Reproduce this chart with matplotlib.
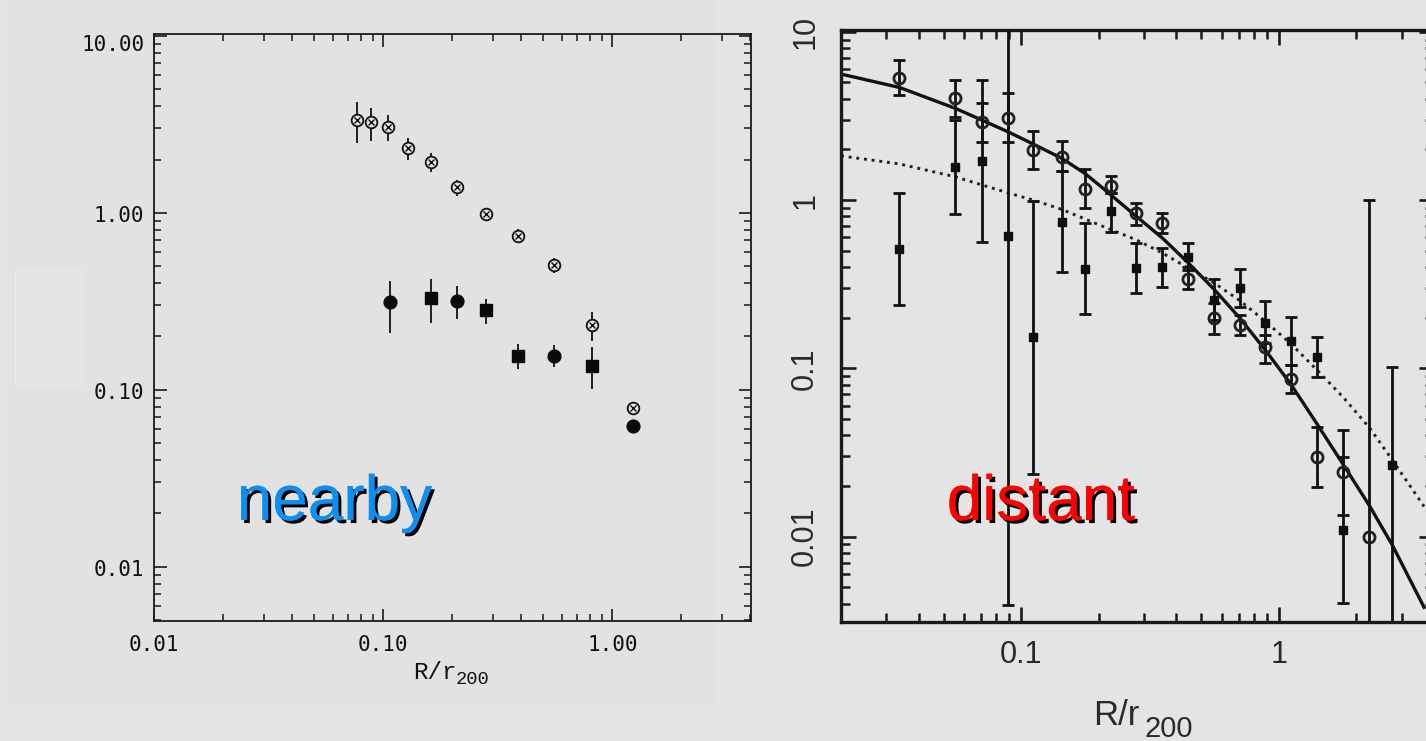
import matplotlib
matplotlib.use('Agg')
import matplotlib.pyplot as plt
import matplotlib.ticker as mtick
import matplotlib.patheffects as pe
import matplotlib.transforms as mtrans
from matplotlib.patches import Rectangle

W, H = 1426, 741

# ---- nearby clusters (left panel) ----
near_x = [0.0766, 0.0881, 0.1045, 0.128, 0.1616, 0.2094, 0.280, 0.389, 0.555, 0.818, 1.235]
near_open = [3.34, 3.24, 3.07, 2.31, 1.94, 1.39, 0.99, 0.738, 0.507, 0.232, 0.0785]
near_open_hi = [4.24, 3.89, 3.56, 2.65, 2.17, 1.53, 1.07, 0.806, 0.552, 0.276, 0.0785]
near_open_lo = [2.47, 2.55, 2.55, 1.99, 1.70, 1.24, 0.90, 0.686, 0.458, 0.189, 0.0785]

near_fx = [0.107, 0.1616, 0.2094, 0.280, 0.389, 0.555, 0.818, 1.235]
near_fill = [0.312, 0.331, 0.318, 0.282, 0.156, 0.156, 0.137, 0.0624]
near_fill_hi = [0.413, 0.422, 0.385, 0.325, 0.181, 0.178, 0.175, 0.0624]
near_fill_lo = [0.208, 0.237, 0.250, 0.235, 0.1315, 0.134, 0.101, 0.0624]
near_fill_mk = ['o', 's', 'o', 's', 's', 'o', 's', 'o']

near_yticks = [0.01, 0.1, 1.0, 10.0]
near_ylabels = ['0.01', '0.10', '1.00', '10.00']
near_xticks = [0.01, 0.1, 1.0]

# ---- distant clusters (right panel) ----
dist_x = [0.0337, 0.0555, 0.0703, 0.0887, 0.1116, 0.1438, 0.1767, 0.2223, 0.2799,
          0.3532, 0.4441, 0.5604, 0.7073, 0.8873, 1.113, 1.409, 1.778, 2.244]
dist_open = [5.33, 4.02, 2.90, 3.06, 1.98, 1.81, 1.16, 1.22, 0.834,
             0.733, 0.341, 0.200, 0.181, 0.134, 0.0864, 0.0298, 0.0243, 0.00998]
dist_open_hi = [6.79, 5.16, 3.76, 4.30, 2.57, 2.25, 1.54, 1.39, 0.964,
                0.841, 0.402, 0.243, 0.207, 0.158, 0.1046, 0.045, 0.043, 1.0]
dist_open_lo = [4.21, 3.12, 2.20, 2.20, 1.53, 1.49, 0.90, 1.10, 0.71,
                0.634, 0.295, 0.161, 0.158, 0.107, 0.0710, 0.0198, 0.0134, 0.001]

dist_fx = [0.0337, 0.0555, 0.0703, 0.0887, 0.1116, 0.1438, 0.1767, 0.2223, 0.2799,
           0.3532, 0.4441, 0.5604, 0.7073, 0.8873, 1.113, 1.409, 1.778, 2.757]
dist_fill = [0.512, 1.58, 1.71, 0.614, 0.154, 0.743, 0.389, 0.860, 0.393,
             0.402, 0.457, 0.255, 0.301, 0.185, 0.146, 0.117, 0.01094, 0.0266]
dist_fill_hi = [1.104, 3.0, 5.16, 20.0, 0.99, 1.49, 0.727, 1.10, 0.557,
                0.516, 0.557, 0.338, 0.389, 0.252, 0.203, 0.154, 0.0298, 0.1022]
dist_fill_lo = [0.237, 0.822, 0.565, 0.00393, 0.0234, 0.375, 0.209, 0.648, 0.281,
                0.305, 0.384, 0.194, 0.232, 0.141, 0.105, 0.0891, 0.00402, 0.001]

# fitted profiles
solid_x = [0.02, 0.0337, 0.0555, 0.0703, 0.0887, 0.1116, 0.1438, 0.1767, 0.2018, 0.2799,
           0.3532, 0.4441, 0.5604, 0.7073, 0.8873, 1.113, 1.409, 1.778, 2.244, 2.757, 3.66]
solid_y = [5.61, 4.67, 3.51, 2.99, 2.55, 2.15, 1.77, 1.44, 1.22, 0.80,
           0.595, 0.425, 0.295, 0.198, 0.128, 0.0805, 0.0465, 0.0268, 0.0153, 0.0089, 0.0038]
dot_x = [0.02, 0.0337, 0.0555, 0.0887, 0.1116, 0.1438, 0.2018, 0.2799, 0.3532, 0.4441,
         0.5604, 0.7073, 0.8873, 1.113, 1.409, 1.778, 2.244, 2.757, 3.66]
dot_y = [1.83, 1.64, 1.375, 1.105, 1.0, 0.88, 0.71, 0.58, 0.485, 0.395,
         0.322, 0.252, 0.19, 0.14, 0.0975, 0.0672, 0.0445, 0.0285, 0.0151]

dist_yticks = [0.01, 0.1, 1.0, 10.0]
dist_ylabels = ['0.01', '0.1', '1', '10']
dist_xticks = [0.1, 1.0]
dist_xlabels = ['0.1', '1']


def yerr(y, lo, hi):
    return [[a - b for a, b in zip(y, lo)], [b - a for a, b in zip(y, hi)]]


bg = '#e4e4e4'
fig = plt.figure(figsize=(W / 100, H / 100), dpi=100, facecolor=bg)
# faint pasted-image regions of the slide
fig.patches.append(Rectangle((8 / W, 1 - 705 / H), 707 / W, 705 / H, transform=fig.transFigure,
                             facecolor='#e2e2e2', edgecolor='none', zorder=-5))
fig.patches.append(Rectangle((15 / W, 1 - 385 / H), 67 / W, 115 / H, transform=fig.transFigure,
                             facecolor='#e4e4e6', edgecolor='#e9e9f1', lw=0.8, zorder=-4))


def px_axes(l, r, t, b):
    return fig.add_axes([l / W, 1 - b / H, (r - l) / W, (b - t) / H])


# ---------------- left panel ----------------
ax1 = px_axes(154.3, 750.7, 34.3, 620.7)
ax1.set_facecolor('none')
ax1.set_xscale('log')
ax1.set_yscale('log')
ax1.set_xlim(0.01, 4.02)
ax1.set_ylim(0.00495, 10.2)
for s in ax1.spines.values():
    s.set_linewidth(1.3)
    s.set_color('#1a1a1a')
ax1.tick_params(which='both', direction='in', top=True, right=True, color='#1a1a1a')
ax1.tick_params(which='major', length=9, width=1.2, labelsize=15)
ax1.tick_params(which='minor', length=5.3, width=1.1)
ax1.tick_params(axis='x', pad=10.5)
ax1.tick_params(axis='y', labelleft=False)
ax1.set_xticks(near_xticks)
ax1.set_yticks(near_yticks)
ax1.xaxis.set_major_formatter(mtick.FormatStrFormatter('%.2f'))
for lab in ax1.get_xticklabels():
    lab.set_family('DejaVu Sans Mono')
    lab.set_color('#111111')
# pgplot-style y labels, nudged down a little (top one kept inside the frame)
for v, s in zip(near_yticks, near_ylabels):
    dy = -9 if v == 10.0 else -3
    tr = mtrans.offset_copy(ax1.get_yaxis_transform(), fig=fig, x=-10, y=dy, units='dots')
    ax1.text(0, v, s, transform=tr, ha='right', va='center', fontsize=15,
             family='DejaVu Sans Mono', color='#111111')

ax1.errorbar(near_x, near_open, yerr=yerr(near_open, near_open_lo, near_open_hi),
             fmt='none', ecolor='#111111', elinewidth=1.3, capsize=0)
ax1.plot(near_x, near_open, 'o', ms=8.4, mfc=bg, mec='#111111', mew=1.3, ls='none')
ax1.plot(near_x, near_open, 'x', ms=5.0, mec='#111111', mew=1.0, ls='none')
ax1.errorbar(near_fx, near_fill, yerr=yerr(near_fill, near_fill_lo, near_fill_hi),
             fmt='none', ecolor='#111111', elinewidth=1.3, capsize=0)
for x, y, m in zip(near_fx, near_fill, near_fill_mk):
    ax1.plot([x], [y], m, ms=9.2 if m == 'o' else 8.2, color='#0a0a0a', ls='none')

fig.text(413 / W, 1 - 679 / H, 'R/r', family='Liberation Mono', fontsize=17.5,
         color='#111111', ha='left', va='baseline')
fig.text(456 / W, 1 - 684 / H, '200', family='Liberation Mono', fontsize=13.5,
         color='#111111', ha='left', va='baseline')

# ---------------- right panel ----------------
ax2 = px_axes(841, 1434, 30, 621.7)
ax2.set_facecolor('none')
ax2.set_xscale('log')
ax2.set_yscale('log')
ax2.set_xlim(0.02, 4.0)
ax2.set_ylim(0.00312, 10.25)
for s in ax2.spines.values():
    s.set_linewidth(2.4)
    s.set_color('#1a1a1a')
ax2.tick_params(which='both', direction='in', top=True, right=True, color='#1a1a1a')
ax2.tick_params(which='major', length=10.8, width=1.9, labelsize=22, labelcolor='#2a2a2a')
ax2.tick_params(which='minor', length=6.5, width=1.8)
ax2.tick_params(axis='x', pad=13)
ax2.tick_params(axis='y', pad=15)
ax2.set_xticks(dist_xticks)
ax2.set_xticklabels(dist_xlabels)
ax2.set_yticks(dist_yticks)
ax2.set_yticklabels(dist_ylabels)
for lab in ax2.get_xticklabels() + ax2.get_yticklabels():
    lab.set_family('Liberation Sans')
for lab in ax2.get_yticklabels():
    lab.set_rotation(90)
    lab.set_va('center')

ax2.plot(solid_x, solid_y, '-', color='#111111', lw=2.4, zorder=2)
ax2.plot(dot_x, dot_y, ':', color='#222222', lw=2.1, zorder=2)
ax2.errorbar(dist_fx, dist_fill, yerr=yerr(dist_fill, dist_fill_lo, dist_fill_hi),
             fmt='s', ms=6.0, color='#0f0f0f', ecolor='#111111', elinewidth=2.0,
             capsize=4.5, capthick=2.0, zorder=3)
ax2.errorbar(dist_x, dist_open, yerr=yerr(dist_open, dist_open_lo, dist_open_hi),
             fmt='o', ms=8.0, mfc='none', mec='#222222', mew=2.0, ecolor='#111111',
             elinewidth=2.0, capsize=4.5, capthick=2.0, zorder=3)

fig.text(1093 / W, 1 - 725 / H, 'R/r', family='Liberation Sans', fontsize=25,
         color='#2a2a2a', ha='left', va='baseline')
fig.text(1145 / W, 1 - 737 / H, '200', family='Liberation Sans', fontsize=21,
         color='#2a2a2a', ha='left', va='baseline')

# ---------------- slide captions ----------------
shadow = [pe.withSimplePatchShadow(offset=(2.2, -2.2), shadow_rgbFace='black', alpha=1.0),
          pe.Normal()]
fig.text(236.7 / W, 1 - 520 / H, 'nearby', family='Liberation Sans', fontsize=46,
         color='#0c8ff0', ha='left', va='baseline', path_effects=shadow)
fig.text(946.7 / W, 1 - 520 / H, 'distant', family='Liberation Sans', fontsize=46,
         color='#ff0000', ha='left', va='baseline', path_effects=shadow)

fig.savefig('out.png', dpi=100, facecolor=bg)
